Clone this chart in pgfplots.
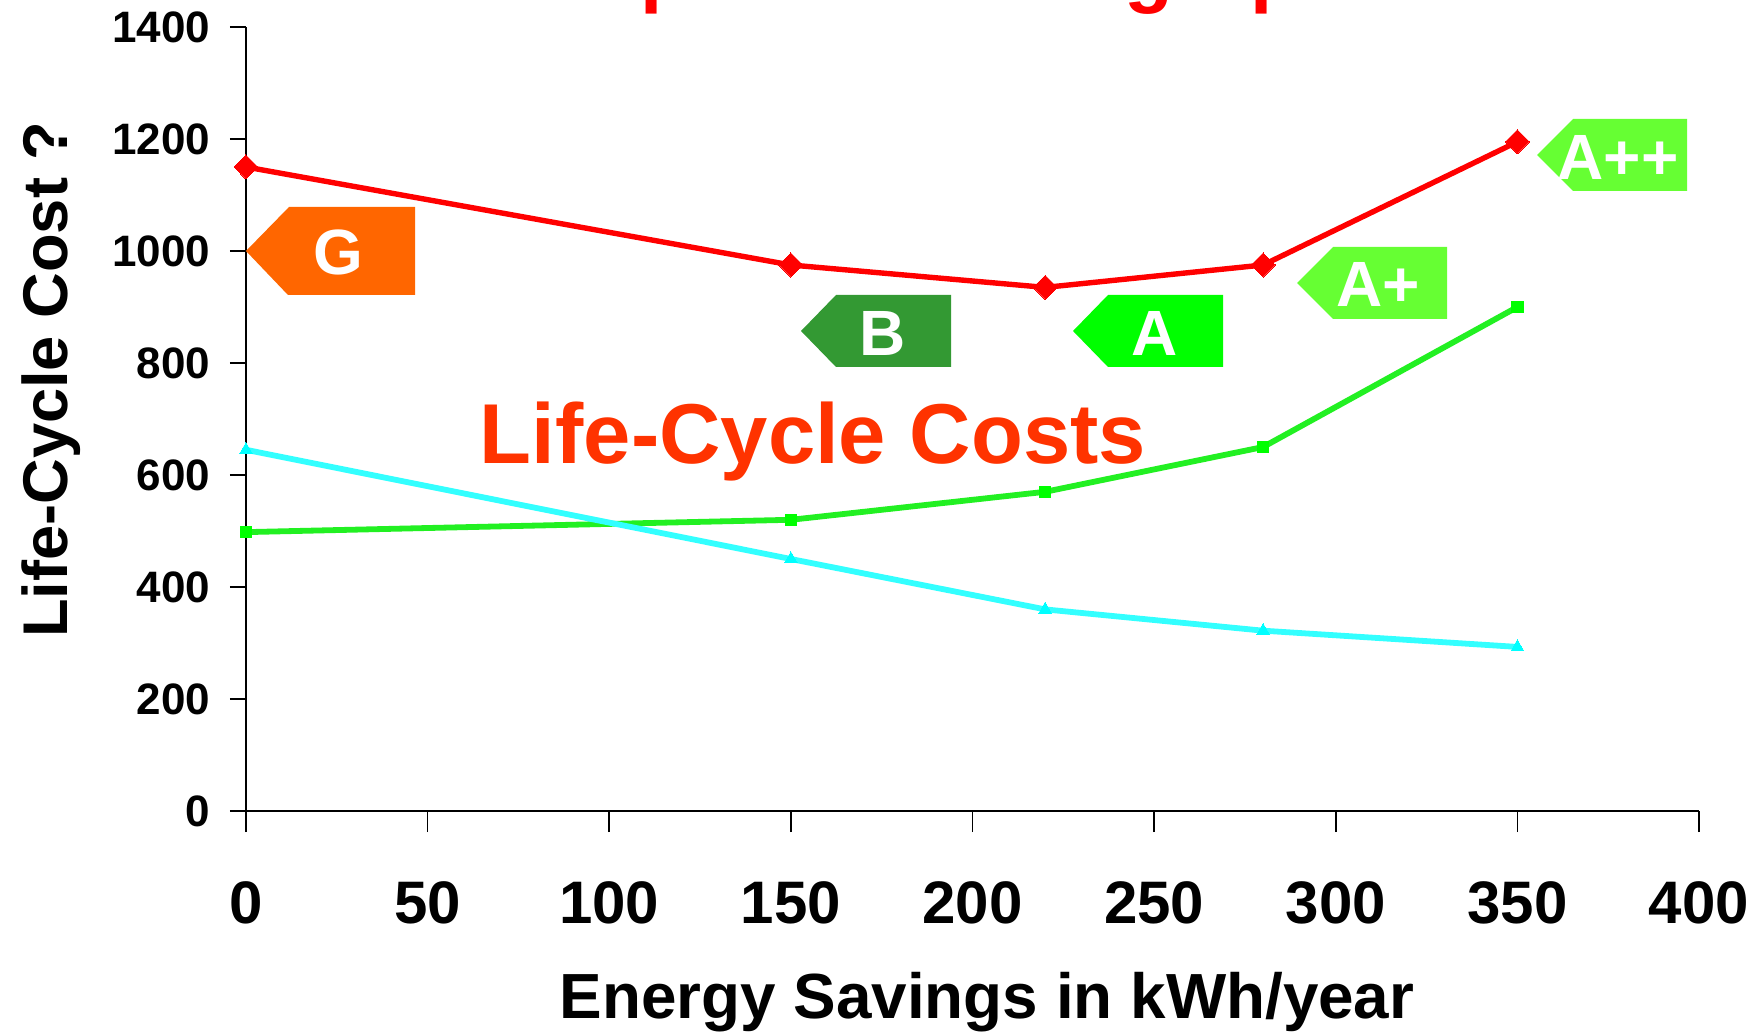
\documentclass[border=0pt]{standalone}
\usepackage{fontspec}
\setmainfont{Liberation Sans}
\usepackage{pgfplots}
\pgfplotsset{compat=1.18}
\definecolor{lineRed}{HTML}{FF0000}
\definecolor{lineGreen}{HTML}{22F022}
\definecolor{lineCyan}{HTML}{33FFFF}
\definecolor{markGreen}{HTML}{00FF00}
\definecolor{markCyan}{HTML}{00FFFF}
\definecolor{tagG}{HTML}{FF6600}
\definecolor{tagB}{HTML}{339933}
\definecolor{tagA}{HTML}{00FF00}
\definecolor{tagAp}{HTML}{66FF33}
\definecolor{costText}{HTML}{FF3300}
% sizes are given in reference pixels, 1px = 0.5pt
\newcommand{\pxfont}[1]{\fontsize{#1}{#1}\selectfont\bfseries}
\begin{document}
\begin{tikzpicture}
\begin{axis}[
  scale only axis, width=726.5pt, height=392pt,
  xmin=0, xmax=400, ymin=0, ymax=1400,
  axis x line=bottom, axis y line=left,
  axis line style={-, black, line width=0.8pt},
  xtick={0,50,...,400}, ytick={0,200,...,1400},
  tick align=outside, tick style={black, line width=0.8pt},
  x tick style={/pgfplots/major tick length=10.5pt},
  y tick style={/pgfplots/major tick length=8pt},
  /pgf/number format/assume math mode=true,
  /pgf/number format/1000 sep={},
  xticklabel style={font=\pxfont{30}, yshift=-27.5pt},
  yticklabel style={font=\pxfont{22}, xshift=-10pt},
  xlabel={Energy Savings in kWh/year},
  ylabel={Life-Cycle Cost ?},
  x label style={font=\pxfont{31.9}, at={(axis description cs:0.51,-0.265)}, anchor=base},
  y label style={font=\pxfont{31.6}, at={(axis description cs:-0.123,0.55)}, anchor=base, rotate=0},
  clip=false,
]
\addplot[line width=2.7pt, lineRed, mark=diamond*, mark size=6pt,
  mark options={solid, fill=lineRed, draw=lineRed, line width=0pt, xscale=1.333}] coordinates {
  (0,1150)(150,975)(220,935)(280,975)(350,1195)
};
\addplot[line width=2.9pt, lineGreen, mark=square*, mark size=2.9pt,
  mark options={solid, fill=markGreen, draw=markGreen, line width=0pt}] coordinates {
  (0,498)(150,520)(220,570)(280,650)(350,900)
};
\addplot[line width=2.9pt, lineCyan, mark=triangle*, mark size=3.6pt,
  mark options={solid, fill=markCyan, draw=markCyan, line width=0pt}] coordinates {
  (0,645)(150,450)(220,360)(280,322)(350,293)
};
\end{axis}
% annotations, in reference pixels with the origin at the top left
\begin{scope}[shift={(-123pt,405.5pt)}, x=0.5pt, y=-0.5pt]
  \fill[tagG] (246,251) -- (289,207) -- (415,207) -- (415,295) -- (288,295) -- cycle;
  \fill[tagB] (801,331) -- (836,295) -- (951,295) -- (951,367) -- (836,367) -- cycle;
  \fill[tagA] (1073,331) -- (1108,295) -- (1223,295) -- (1223,367) -- (1108,367) -- cycle;
  \fill[tagAp] (1297,283) -- (1333,247) -- (1447,247) -- (1447,319) -- (1333,319) -- cycle;
  \fill[tagAp] (1537,155) -- (1573,119) -- (1687,119) -- (1687,191) -- (1573,191) -- cycle;
  \node[white, font=\pxfont{32}, anchor=base, inner sep=0pt] at (338,275) {G};
  \node[white, font=\pxfont{32}, anchor=base, inner sep=0pt] at (883,356) {B};
  \node[white, font=\pxfont{32}, anchor=base, inner sep=0pt] at (1155,356) {A};
  \node[white, font=\pxfont{32}, anchor=base, inner sep=0pt] at (1378,307) {A+};
  \node[white, font=\pxfont{32}, anchor=base, inner sep=0pt] at (1618,180) {A++};
  \node[costText, font=\pxfont{42.5}, anchor=base, inner sep=0pt] at (813,464) {Life-Cycle Costs};
  % the title runs off the top of the picture, only its descenders show
  \node[lineRed, font=\pxfont{40}, anchor=base west, inner sep=0pt] at (640,-2.5) {p};
  \node[lineRed, font=\pxfont{40}, anchor=base west, inner sep=0pt] at (1124,-2.5) {g};
  \node[lineRed, font=\pxfont{40}, anchor=base west, inner sep=0pt] at (1250,-2.5) {p};
\end{scope}
\pgfresetboundingbox
\useasboundingbox (-123pt,-111pt) rectangle (757pt,405.5pt);
\end{tikzpicture}
\end{document}
